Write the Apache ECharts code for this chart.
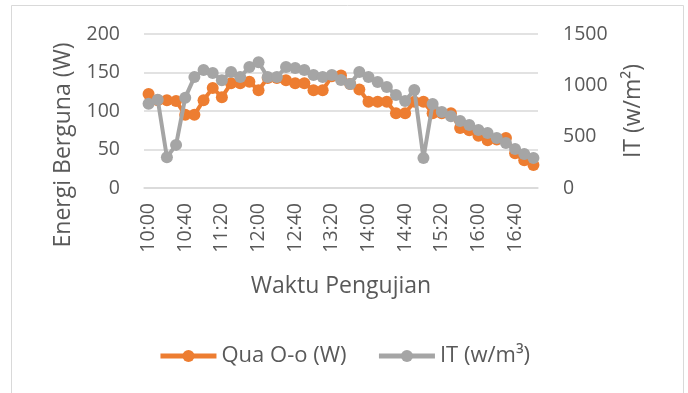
<!DOCTYPE html>
<html>
<head>
<meta charset="utf-8">
<script src="https://cdn.jsdelivr.net/npm/echarts@6/dist/echarts.min.js"></script>
<style>
  html, body { margin: 0; padding: 0; background: #fff; }
  #chart { width: 688px; height: 393px; }
</style>
</head>
<body>
<div id="chart"></div>
<script>
// Test times, every 10 minutes from 10:00 to 17:00
const times = [
  '10:00','10:10','10:20','10:30','10:40','10:50',
  '11:00','11:10','11:20','11:30','11:40','11:50',
  '12:00','12:10','12:20','12:30','12:40','12:50',
  '13:00','13:10','13:20','13:30','13:40','13:50',
  '14:00','14:10','14:20','14:30','14:40','14:50',
  '15:00','15:10','15:20','15:30','15:40','15:50',
  '16:00','16:10','16:20','16:30','16:40','16:50',
  '17:00'
];

// Useful energy, Qua O-o (W)
const quaOo = [
  122, 114, 114, 113, 95, 95,
  114, 130, 118, 136, 136, 138,
  127, 143, 143, 140, 136, 136,
  127, 127, 145, 146, 135, 128,
  112, 112, 112, 97, 97, 112,
  112, 97, 97, 97, 78, 75,
  68, 62, 63, 65, 45, 36,
  30
];

// Irradiance IT (w/m3)
const irradiance = [
  820, 860, 300, 420, 880, 1080,
  1150, 1120, 1050, 1130, 1081, 1178,
  1225, 1081, 1081, 1178, 1169, 1149,
  1100, 1081, 1100, 1052, 1013, 1130,
  1081, 1032, 984, 906, 847, 955,
  292, 818, 740, 700, 652, 614,
  565, 536, 487, 438, 380, 331,
  292
];

const leftTicks = { min: 0, max: 200, interval: 50 };
const rightTicks = { min: 0, max: 1500, interval: 500 };

const FONT = 'Open Sans';
const TEXT = '#595959';
const GRID = '#d9d9d9';

const chart = echarts.init(document.getElementById('chart'), null, { renderer: 'canvas' });

chart.setOption({
  backgroundColor: '#ffffff',
  animation: false,
  textStyle: { fontFamily: FONT, color: TEXT },
  graphic: [{
    type: 'rect',
    shape: { x: 11.5, y: 5.5, width: 672, height: 400 },
    style: { fill: 'none', stroke: GRID, lineWidth: 1 },
    silent: true
  }, {
    // left value-axis title, centred beside the plot and its time labels
    type: 'text',
    x: 63,
    y: 145,
    rotation: Math.PI / 2,
    style: {
      text: 'Energi Berguna (W)',
      fontFamily: FONT,
      fontSize: 23,
      fill: TEXT,
      align: 'center',
      verticalAlign: 'middle'
    },
    silent: true
  }],
  grid: { left: 144, right: 150, top: 34, bottom: 205, containLabel: false },
  legend: {
    bottom: 21,
    left: 'center',
    itemWidth: 56,
    itemHeight: 15,
    itemGap: 30,
    lineStyle: { width: 5 },
    textStyle: { fontFamily: FONT, fontSize: 22, color: TEXT },
    data: ['Qua O-o (W)', 'IT (w/m³)']
  },
  xAxis: {
    type: 'category',
    data: times,
    boundaryGap: true,
    name: 'Waktu Pengujian',
    nameLocation: 'middle',
    nameGap: 87,
    nameTextStyle: { fontFamily: FONT, fontSize: 23, color: TEXT },
    axisLine: { show: true, lineStyle: { color: GRID, width: 1.5 } },
    axisTick: { show: false },
    axisLabel: {
      interval: 3,
      rotate: 90,
      margin: 15,
      fontFamily: FONT,
      fontSize: 19.5,
      color: TEXT
    },
    splitLine: { show: false }
  },
  yAxis: [{
    type: 'value',
    min: leftTicks.min,
    max: leftTicks.max,
    interval: leftTicks.interval,
    axisLine: { show: false },
    axisTick: { show: false },
    axisLabel: { margin: 24, fontFamily: FONT, fontSize: 19.5, color: TEXT },
    splitLine: { show: true, lineStyle: { color: GRID, width: 1.5 } }
  }, {
    type: 'value',
    min: rightTicks.min,
    max: rightTicks.max,
    interval: rightTicks.interval,
    position: 'right',
    name: 'IT (w/m²)',
    nameLocation: 'middle',
    nameGap: 84,
    nameRotate: 90,
    nameTextStyle: { fontFamily: FONT, fontSize: 23, color: TEXT },
    axisLine: { show: false },
    axisTick: { show: false },
    axisLabel: {
      margin: 25,
      fontFamily: FONT,
      fontSize: 19.5,
      color: TEXT,
      formatter: (v) => String(v)
    },
    splitLine: { show: false }
  }],
  series: [{
    name: 'Qua O-o (W)',
    type: 'line',
    yAxisIndex: 0,
    data: quaOo,
    symbol: 'circle',
    symbolSize: 12,
    showAllSymbol: true,
    itemStyle: { color: '#ED7D31' },
    lineStyle: { color: '#ED7D31', width: 4 },
    z: 2
  }, {
    name: 'IT (w/m³)',
    type: 'line',
    yAxisIndex: 1,
    data: irradiance,
    symbol: 'circle',
    symbolSize: 12,
    showAllSymbol: true,
    itemStyle: { color: '#A5A5A5' },
    lineStyle: { color: '#A5A5A5', width: 4 },
    z: 3
  }]
});
</script>
</body>
</html>
